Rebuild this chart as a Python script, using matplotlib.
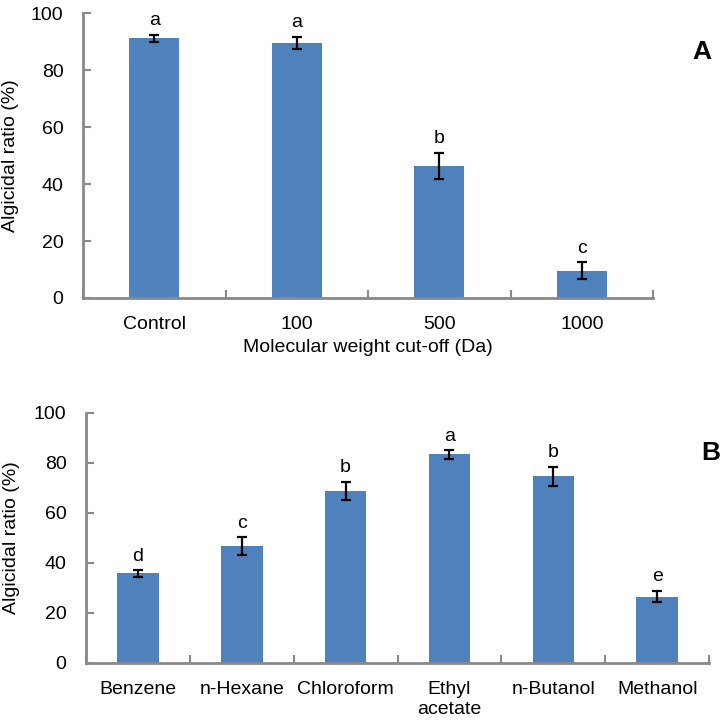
import matplotlib

matplotlib.use("Agg")
import matplotlib.pyplot as plt

plt.rcParams["font.family"] = ["Liberation Sans", "DejaVu Sans"]

# Panel A: molecular weight cut-off
cutoff_labels = ["Control", "100", "500", "1000"]
cutoff_ratio = [91.2, 89.6, 46.3, 9.5]
cutoff_err = [1.2, 2.1, 4.7, 3.0]
cutoff_letters = ["a", "a", "b", "c"]

# Panel B: solvent extracts
solvent_labels = ["Benzene", "n-Hexane", "Chloroform", "Ethyl\nacetate", "n-Butanol", "Methanol"]
solvent_ratio = [35.8, 46.7, 68.8, 83.4, 74.6, 26.5]
solvent_err = [1.3, 3.5, 3.7, 1.7, 3.9, 2.3]
solvent_letters = ["d", "c", "b", "a", "b", "e"]

BAR = "#4F81BD"
AXIS = "#898989"
FS = 14


def bar_panel(ax, labels, vals, errs, letters, width, panel, panel_xy):
    n = len(labels)
    x = list(range(n))
    ax.bar(x, vals, width=width, color=BAR, zorder=2)
    ax.errorbar(x, vals, yerr=errs, fmt="none", ecolor="black",
                elinewidth=1.6, capsize=3.5, capthick=1.6, zorder=3)
    for xi, v, e, s in zip(x, vals, errs, letters):
        ax.annotate(s, (xi, v + e), textcoords="offset points", xytext=(0, 4),
                    ha="center", va="bottom", fontsize=FS)

    ax.set_xlim(-0.5, n - 0.5)
    ax.set_ylim(0, 100)
    ax.set_yticks(range(0, 101, 20))
    # tick marks between categories, labels at the centres
    ax.set_xticks([k - 0.5 for k in range(n + 1)])
    ax.set_xticklabels([])
    ax.set_xticks(x, minor=True)
    ax.set_xticklabels(labels, minor=True)
    ax.tick_params(axis="x", which="major", direction="in", length=6,
                   width=1.5, color=AXIS)
    ax.tick_params(axis="x", which="minor", length=0, pad=13, labelsize=FS)
    ax.tick_params(axis="y", direction="in", length=6, width=1.5,
                   color=AXIS, pad=14, labelsize=FS)

    for side in ("top", "right"):
        ax.spines[side].set_visible(False)
    for side in ("left", "bottom"):
        ax.spines[side].set_color(AXIS)
        ax.spines[side].set_linewidth(2)

    ax.set_ylabel("Algicidal ratio (%)", fontsize=FS)
    ax.text(panel_xy[0], panel_xy[1], panel, transform=ax.figure.transFigure,
            fontsize=19, fontweight="bold", ha="center", va="center")


fig = plt.figure(figsize=(7.23, 7.24), dpi=100)
ax_a = fig.add_axes([0.1148, 0.5884, 0.7884, 0.3936])
ax_b = fig.add_axes([0.119, 0.0843, 0.8617, 0.3453])

bar_panel(ax_a, cutoff_labels, cutoff_ratio, cutoff_err, cutoff_letters,
          0.35, "A", (702 / 723, 1 - 52 / 724))
ax_a.set_xlabel("Molecular weight cut-off (Da)", fontsize=FS)
ax_a.xaxis.set_label_coords(0.5, -0.175)
ax_a.xaxis.label.set_verticalalignment("center")
ax_a.yaxis.set_label_coords(-0.112, 0.5)

bar_panel(ax_b, solvent_labels, solvent_ratio, solvent_err, solvent_letters,
          0.40, "B", (711 / 723, 1 - 453 / 724))
ax_b.yaxis.set_label_coords(-0.106, 0.5)

fig.savefig("out.png", dpi=100)
